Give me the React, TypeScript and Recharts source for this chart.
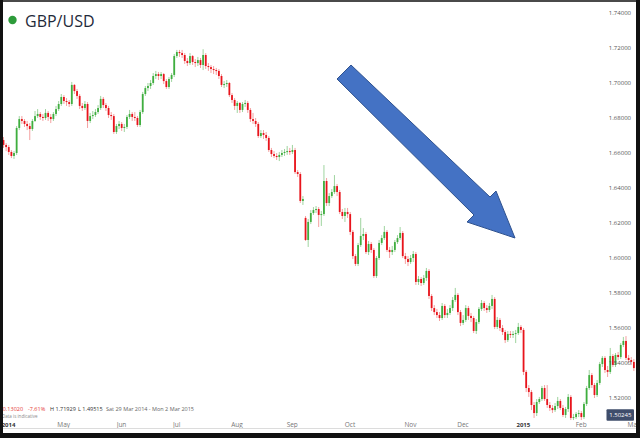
import { ComposedChart, Bar, XAxis, YAxis } from 'recharts'

// daily GBP/USD candles, Mon 31 Mar 2014 .. Mon 2 Mar 2015 (weekdays only)
const closes = [
  1.6646, 1.6634, 1.6606, 1.6583, 1.6600, 1.6743, 1.6794, 1.6783, 1.6766, 1.6754,
  1.6737, 1.6783, 1.6811, 1.6823, 1.6806, 1.6800, 1.6829, 1.6806, 1.6794, 1.6823,
  1.6851, 1.6880, 1.6920, 1.6897, 1.6891, 1.6880, 1.6989, 1.6954, 1.6926, 1.6869,
  1.6857, 1.6880, 1.6783, 1.6811, 1.6817, 1.6834, 1.6857, 1.6909, 1.6874, 1.6857,
  1.6817, 1.6811, 1.6720, 1.6754, 1.6766, 1.6743, 1.6749, 1.6806, 1.6823, 1.6806,
  1.6800, 1.6760, 1.6834, 1.6937, 1.6971, 1.6983, 1.7000, 1.7040, 1.7051, 1.7040,
  1.7051, 1.7011, 1.6977, 1.7023, 1.7046, 1.7154, 1.7177, 1.7171, 1.7160, 1.7126,
  1.7114, 1.7154, 1.7120, 1.7114, 1.7131, 1.7103, 1.7160, 1.7097, 1.7091, 1.7080,
  1.7074, 1.7069, 1.7040, 1.6989, 1.6994, 1.7000, 1.6931, 1.6903, 1.6869, 1.6886,
  1.6846, 1.6880, 1.6886, 1.6846, 1.6794, 1.6783, 1.6766, 1.6697, 1.6714, 1.6703,
  1.6686, 1.6617, 1.6594, 1.6583, 1.6577, 1.6589, 1.6600, 1.6606, 1.6611, 1.6606,
  1.6617, 1.6491, 1.6480, 1.6326, 1.6337, 1.6103, 1.6206, 1.6257, 1.6274, 1.6280,
  1.6246, 1.6251, 1.6440, 1.6314, 1.6354, 1.6377, 1.6411, 1.6377, 1.6263, 1.6240,
  1.6263, 1.6251, 1.6149, 1.6011, 1.5966, 1.6074, 1.6126, 1.6137, 1.6034, 1.6080,
  1.6046, 1.5897, 1.6000, 1.6086, 1.6114, 1.6149, 1.6046, 1.6034, 1.6046, 1.6091,
  1.6114, 1.6143, 1.6011, 1.5994, 1.5977, 1.6000, 1.6023, 1.5863, 1.5880, 1.5857,
  1.5886, 1.5926, 1.5783, 1.5714, 1.5691, 1.5674, 1.5657, 1.5726, 1.5674, 1.5686,
  1.5714, 1.5760, 1.5789, 1.5691, 1.5629, 1.5646, 1.5714, 1.5669, 1.5657, 1.5583,
  1.5634, 1.5709, 1.5743, 1.5714, 1.5703, 1.5726, 1.5766, 1.5606, 1.5646, 1.5600,
  1.5577, 1.5531, 1.5566, 1.5560, 1.5566, 1.5571, 1.5606, 1.5589, 1.5349, 1.5257,
  1.5234, 1.5160, 1.5114, 1.5177, 1.5194, 1.5257, 1.5194, 1.5160, 1.5143, 1.5131,
  1.5154, 1.5183, 1.5143, 1.5103, 1.5137, 1.5206, 1.5086, 1.5091, 1.5109, 1.5114,
  1.5091, 1.5166, 1.5257, 1.5331, 1.5274, 1.5217, 1.5286, 1.5394, 1.5429, 1.5360,
  1.5349, 1.5440, 1.5389, 1.5446, 1.5434, 1.5503, 1.5526, 1.5429, 1.5417, 1.5406, 1.5371,
]

const highs = [
  1.6691, 1.6657, 1.6646, 1.6617, 1.6611, 1.6754, 1.6811, 1.6811, 1.6794, 1.6783,
  1.6771, 1.6794, 1.6840, 1.6851, 1.6834, 1.6823, 1.6851, 1.6840, 1.6823, 1.6834,
  1.6869, 1.6897, 1.6937, 1.6931, 1.6914, 1.6903, 1.7006, 1.6994, 1.6966, 1.6937,
  1.6886, 1.6897, 1.6891, 1.6829, 1.6840, 1.6851, 1.6874, 1.6926, 1.6920, 1.6886,
  1.6869, 1.6834, 1.6823, 1.6766, 1.6783, 1.6777, 1.6766, 1.6817, 1.6846, 1.6834,
  1.6834, 1.6811, 1.6846, 1.6949, 1.6983, 1.7000, 1.7017, 1.7057, 1.7069, 1.7063,
  1.7063, 1.7057, 1.7023, 1.7034, 1.7057, 1.7166, 1.7189, 1.7189, 1.7189, 1.7171,
  1.7143, 1.7171, 1.7160, 1.7137, 1.7149, 1.7143, 1.7193, 1.7171, 1.7114, 1.7103,
  1.7097, 1.7086, 1.7080, 1.7051, 1.7011, 1.7017, 1.7006, 1.6943, 1.6914, 1.6897,
  1.6891, 1.6891, 1.6903, 1.6897, 1.6857, 1.6829, 1.6800, 1.6777, 1.6731, 1.6731,
  1.6720, 1.6697, 1.6629, 1.6611, 1.6600, 1.6606, 1.6617, 1.6623, 1.6640, 1.6629,
  1.6646, 1.6629, 1.6503, 1.6491, 1.6354, 1.6240, 1.6223, 1.6274, 1.6291, 1.6297,
  1.6291, 1.6269, 1.6531, 1.6457, 1.6371, 1.6394, 1.6474, 1.6423, 1.6389, 1.6280,
  1.6286, 1.6286, 1.6263, 1.6160, 1.6023, 1.6086, 1.6229, 1.6171, 1.6149, 1.6097,
  1.6091, 1.6057, 1.6011, 1.6103, 1.6131, 1.6183, 1.6160, 1.6063, 1.6069, 1.6103,
  1.6131, 1.6177, 1.6154, 1.6029, 1.6011, 1.6017, 1.6040, 1.6034, 1.5897, 1.5891,
  1.5903, 1.5943, 1.5937, 1.5794, 1.5731, 1.5709, 1.5691, 1.5743, 1.5737, 1.5709,
  1.5731, 1.5777, 1.5829, 1.5800, 1.5703, 1.5674, 1.5731, 1.5726, 1.5686, 1.5669,
  1.5651, 1.5720, 1.5760, 1.5754, 1.5731, 1.5743, 1.5789, 1.5777, 1.5663, 1.5657,
  1.5617, 1.5589, 1.5583, 1.5583, 1.5583, 1.5589, 1.5629, 1.5617, 1.5600, 1.5360,
  1.5274, 1.5246, 1.5177, 1.5194, 1.5206, 1.5269, 1.5274, 1.5274, 1.5177, 1.5160,
  1.5171, 1.5206, 1.5194, 1.5160, 1.5149, 1.5223, 1.5217, 1.5109, 1.5120, 1.5131,
  1.5126, 1.5177, 1.5269, 1.5360, 1.5343, 1.5286, 1.5303, 1.5406, 1.5440, 1.5440,
  1.5383, 1.5486, 1.5451, 1.5457, 1.5463, 1.5514, 1.5549, 1.5554, 1.5446, 1.5434, 1.5423,
]

const lows = [
  1.6629, 1.6611, 1.6589, 1.6571, 1.6566, 1.6589, 1.6731, 1.6766, 1.6749, 1.6731,
  1.6674, 1.6726, 1.6777, 1.6800, 1.6789, 1.6783, 1.6789, 1.6783, 1.6771, 1.6783,
  1.6811, 1.6840, 1.6869, 1.6880, 1.6869, 1.6863, 1.6869, 1.6937, 1.6909, 1.6851,
  1.6840, 1.6846, 1.6743, 1.6771, 1.6794, 1.6806, 1.6823, 1.6846, 1.6857, 1.6840,
  1.6800, 1.6789, 1.6709, 1.6709, 1.6737, 1.6726, 1.6720, 1.6737, 1.6794, 1.6783,
  1.6783, 1.6749, 1.6749, 1.6823, 1.6926, 1.6954, 1.6966, 1.6989, 1.7023, 1.7017,
  1.7023, 1.6994, 1.6966, 1.6966, 1.7006, 1.7034, 1.7143, 1.7149, 1.7143, 1.7109,
  1.7097, 1.7103, 1.7103, 1.7091, 1.7097, 1.7086, 1.7074, 1.7080, 1.7069, 1.7057,
  1.7051, 1.7046, 1.7023, 1.6977, 1.6971, 1.6977, 1.6920, 1.6886, 1.6846, 1.6829,
  1.6829, 1.6834, 1.6863, 1.6829, 1.6777, 1.6766, 1.6749, 1.6686, 1.6686, 1.6680,
  1.6669, 1.6606, 1.6577, 1.6571, 1.6560, 1.6554, 1.6577, 1.6583, 1.6589, 1.6589,
  1.6594, 1.6480, 1.6463, 1.6314, 1.6303, 1.6097, 1.6063, 1.6194, 1.6246, 1.6257,
  1.6177, 1.6183, 1.6240, 1.6297, 1.6297, 1.6343, 1.6366, 1.6354, 1.6251, 1.6223,
  1.6206, 1.6229, 1.6131, 1.5994, 1.5954, 1.5954, 1.6063, 1.6103, 1.6023, 1.6017,
  1.6029, 1.5886, 1.5886, 1.5989, 1.6074, 1.6103, 1.6034, 1.6000, 1.6017, 1.6034,
  1.6080, 1.6103, 1.6000, 1.5966, 1.5954, 1.5966, 1.5977, 1.5846, 1.5846, 1.5840,
  1.5846, 1.5869, 1.5766, 1.5697, 1.5674, 1.5657, 1.5640, 1.5646, 1.5657, 1.5657,
  1.5674, 1.5697, 1.5749, 1.5674, 1.5611, 1.5617, 1.5634, 1.5646, 1.5634, 1.5571,
  1.5566, 1.5623, 1.5697, 1.5697, 1.5686, 1.5691, 1.5709, 1.5594, 1.5594, 1.5583,
  1.5560, 1.5514, 1.5520, 1.5543, 1.5543, 1.5514, 1.5560, 1.5571, 1.5331, 1.5234,
  1.5206, 1.5131, 1.5086, 1.5097, 1.5166, 1.5183, 1.5183, 1.5143, 1.5126, 1.5114,
  1.5120, 1.5137, 1.5131, 1.5091, 1.5086, 1.5120, 1.5074, 1.5074, 1.5080, 1.5091,
  1.5074, 1.5080, 1.5154, 1.5246, 1.5257, 1.5200, 1.5206, 1.5274, 1.5377, 1.5343,
  1.5320, 1.5337, 1.5377, 1.5377, 1.5417, 1.5423, 1.5491, 1.5417, 1.5400, 1.5389, 1.5354,
]

const firstOpen = 1.6674
// candles open at the prior close, except the gap on Mon 8 Sep 2014
const gapOpens: Record<number, number> = { 115: 1.6229 }

const tickDates = [
  '2014-04-01', '2014-05-01', '2014-06-02', '2014-07-01', '2014-08-01', '2014-09-01',
  '2014-10-01', '2014-11-03', '2014-12-01', '2015-01-01', '2015-02-02', '2015-03-02',
]
const tickLabels = ['2014', 'May', 'Jun', 'Jul', 'Aug', 'Sep', 'Oct', 'Nov', 'Dec', '2015', 'Feb', 'Mar']
const yearTicks = ['2014', '2015']

const priceTicks = [1.52, 1.54, 1.56, 1.58, 1.6, 1.62, 1.64, 1.66, 1.68, 1.7, 1.72, 1.74]
const Y_MIN = 1.505714
const Y_MAX = 1.745714

const GREEN = '#3fae3f'
const GREEN_WICK = '#9fd49f'
const RED = '#e8141c'
const RED_WICK = '#f4a0a0'
const FONT = '"Open Sans", Arial, sans-serif'

function weekdays(start: string, count: number): string[] {
  const out: string[] = []
  const d = new Date(start + 'T00:00:00Z')
  while (out.length < count) {
    const wd = d.getUTCDay()
    if (wd !== 0 && wd !== 6) out.push(d.toISOString().slice(0, 10))
    d.setUTCDate(d.getUTCDate() + 1)
  }
  return out
}

interface Candle {
  date: string
  open: number
  high: number
  low: number
  close: number
}

const dates = weekdays('2014-03-31', closes.length)
const candles: Candle[] = dates.map((date, i) => ({
  date,
  open: i === 0 ? firstOpen : gapOpens[i] ?? closes[i - 1],
  high: highs[i],
  low: lows[i],
  close: closes[i],
}))

const tickLabelByDate = new Map(tickDates.map((d, i) => [d, tickLabels[i]]))

function CandleShape(props: any) {
  const { x, y, width, height, payload } = props
  if (!payload || x == null) return <g />
  const { open, close, high, low } = payload as Candle
  const h = Math.abs(height)
  const top = height < 0 ? y + height : y
  const k = high > low ? h / (high - low) : 0
  const yOf = (v: number) => top + (high - v) * k
  const up = close >= open
  const cx = x + width / 2
  const bodyTop = yOf(Math.max(open, close))
  const bodyH = Math.max(1, Math.abs(yOf(open) - yOf(close)))
  return (
    <g>
      <line x1={cx} x2={cx} y1={top} y2={top + h} stroke={up ? GREEN_WICK : RED_WICK} strokeWidth={1} />
      <rect x={cx - 0.9} y={bodyTop} width={1.8} height={bodyH} fill={up ? GREEN : RED} />
    </g>
  )
}

function MonthTick(props: any) {
  const { x, payload } = props
  const label = tickLabelByDate.get(payload?.value)
  if (!label) return <g />
  const isYear = yearTicks.includes(label)
  return (
    <text
      x={Math.max(x, 8.5)}
      y={426.5}
      textAnchor="middle"
      fontSize={isYear ? 6 : 6.5}
      fontWeight={isYear ? 700 : 400}
      fontFamily={FONT}
      fill={isYear ? '#333' : '#777'}
    >
      {label}
    </text>
  )
}

function PriceTick(props: any) {
  const { y, payload } = props
  return (
    <text x={631} y={y} dy="0.35em" textAnchor="end" fontSize={6} fontFamily={FONT} fill="#555">
      {Number(payload.value).toFixed(5)}
    </text>
  )
}

export default function App() {
  return (
    <div style={{ position: 'relative', width: 640, height: 438, background: '#fff', overflow: 'hidden', fontFamily: FONT }}>
      <style>{'body{margin:0}'}</style>
      <div style={{ position: 'absolute', left: 0, top: 0 }}>
        <ComposedChart
          width={640}
          height={438}
          data={candles}
          margin={{ top: 3, right: 5, bottom: 0, left: 2 }}
          barCategoryGap={0}
        >
          <XAxis dataKey="date" interval={0} height={15} axisLine={false} tickLine={false} tick={MonthTick} />
          <YAxis
            orientation="right"
            mirror
            type="number"
            domain={[Y_MIN, Y_MAX]}
            allowDataOverflow
            ticks={priceTicks}
            interval={0}
            axisLine={false}
            tickLine={false}
            tick={PriceTick}
          />
          <Bar dataKey={(d: Candle) => [d.low, d.high]} shape={CandleShape} isAnimationActive={false} />
        </ComposedChart>
      </div>

      <svg width={640} height={438} style={{ position: 'absolute', left: 0, top: 0, pointerEvents: 'none' }}>
        <circle cx={12.5} cy={20} r={4.2} fill="#2d9b3a" />
        <text x={25} y={26.7} fontSize={16} fontFamily={FONT} fill="#1f2a3a">GBP/USD</text>

        <polygon
          points="337,79 351,65 490,197 496,191 515,238 467,222 474,215"
          fill="#4472c4"
          stroke="#2f528f"
          strokeWidth={1}
        />

        <g fontSize={5.5} fontFamily={FONT}>
          <text x={1} y={411} fill="#e53935">-0.13020</text>
          <text x={28} y={411} fill="#e53935">-7.61%</text>
          <text x={50} y={411} fill="#333">H 1.71929</text>
          <text x={78} y={411} fill="#333">L 1.49515</text>
          <text x={106} y={411} fill="#666">Sat 29 Mar 2014 - Mon 2 Mar 2015</text>
        </g>
        <text x={2} y={418.3} fontSize={4.5} fontFamily={FONT} fill="#888">Data is indicative</text>

        <rect x={606.5} y={409.3} width={27.5} height={11.4} rx={1} fill="#3f4d6b" />
        <text x={620.3} y={417.3} textAnchor="middle" fontSize={6} fontFamily={FONT} fill="#fff">1.50245</text>

        <line x1={0} x2={640} y1={428.5} y2={428.5} stroke="#dcdcdc" strokeWidth={1} />
      </svg>

      <div style={{ position: 'absolute', left: 0, top: 0, width: 640, height: 2, background: '#4a4a4a' }} />
      <div style={{ position: 'absolute', left: 0, top: 0, width: 3, height: 438, background: '#111' }} />
      <div style={{ position: 'absolute', left: 636, top: 0, width: 4, height: 438, background: '#111' }} />
      <div style={{ position: 'absolute', left: 0, top: 433, width: 640, height: 5, background: '#111' }} />
    </div>
  )
}
